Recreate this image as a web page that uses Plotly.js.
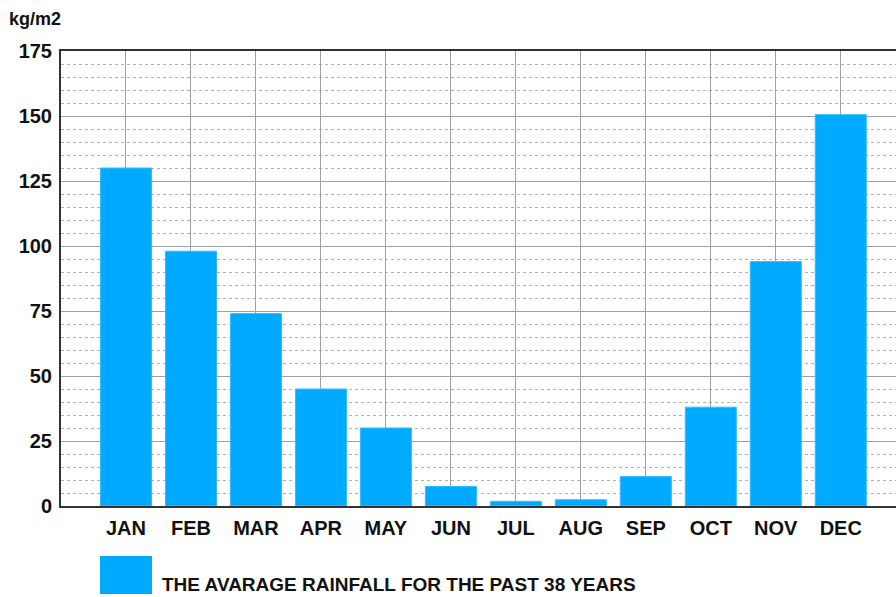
<!DOCTYPE html>
<html>
<head>
<meta charset="utf-8">
<script src="https://cdn.plot.ly/plotly-3.0.1.min.js"></script>
<style>
  html, body { margin: 0; padding: 0; background: #fff; }
  #chart { width: 896px; height: 597px; }
</style>
</head>
<body>
<div id="chart"></div>
<script>
const months = ["JAN", "FEB", "MAR", "APR", "MAY", "JUN", "JUL", "AUG", "SEP", "OCT", "NOV", "DEC"];
const rainfall = [130, 98, 74, 45, 30, 7.5, 1.8, 2.4, 11.3, 38, 94, 150.5];
const seriesName = "THE AVARAGE RAINFALL FOR THE PAST 38 YEARS";
const unitLabel = "kg/m2";
const yTicks = [0, 25, 50, 75, 100, 125, 150, 175];

const barColor = "#00AAFF";
const fontFam = "Liberation Sans, Arial, sans-serif";

const trace = {
  type: "bar",
  x: months,
  y: rainfall,
  name: seriesName,
  marker: { color: barColor, line: { color: "#33bbff", width: 1 } },
  hoverinfo: "x+y",
  showlegend: false
};

const layout = {
  width: 896,
  height: 597,
  margin: { l: 61, r: 0, t: 51, b: 91 },
  paper_bgcolor: "#ffffff",
  plot_bgcolor: "#ffffff",
  bargap: 0.215,
  xaxis: {
    type: "category",
    range: [-1, 11.85],
    showgrid: true,
    gridcolor: "#a0a0a0",
    gridwidth: 1,
    showline: true,
    mirror: true,
    linecolor: "#333333",
    linewidth: 2,
    ticks: "",
    ticklabelstandoff: 3,
    tickfont: { family: fontFam, size: 20, color: "#111111", weight: "bold" },
    zeroline: false,
    fixedrange: true
  },
  yaxis: {
    range: [0, 175],
    tickvals: yTicks,
    ticktext: yTicks.map(String),
    showgrid: true,
    gridcolor: "#a0a0a0",
    gridwidth: 1,
    showline: true,
    linecolor: "#333333",
    linewidth: 2,
    ticks: "",
    ticklabelstandoff: 3,
    tickfont: { family: fontFam, size: 20, color: "#111111", weight: "bold" },
    zeroline: false,
    minor: {
      dtick: 5,
      showgrid: true,
      gridcolor: "#b0b0b0",
      griddash: "dot",
      gridwidth: 1
    },
    fixedrange: true
  },
  shapes: [
    {
      type: "rect",
      xref: "paper", yref: "paper",
      x0: (100 - 61) / 835, x1: (152 - 61) / 835,
      y0: (506 - 594) / 455, y1: (506 - 556) / 455,
      fillcolor: barColor,
      line: { width: 0 }
    }
  ],
  annotations: [
    {
      text: unitLabel,
      xref: "paper", yref: "paper",
      x: (7 - 61) / 835, y: (506 - 19) / 455,
      xanchor: "left", yanchor: "middle",
      showarrow: false,
      font: { family: fontFam, size: 18, color: "#111111", weight: "bold" }
    },
    {
      text: seriesName,
      xref: "paper", yref: "paper",
      x: (161 - 61) / 835, y: (506 - 584) / 455,
      xanchor: "left", yanchor: "middle",
      borderpad: 0,
      showarrow: false,
      font: { family: fontFam, size: 19, color: "#111111", weight: "bold" }
    }
  ],
  showlegend: false
};

Plotly.newPlot("chart", [trace], layout, { displayModeBar: false, staticPlot: false });
</script>
</body>
</html>
